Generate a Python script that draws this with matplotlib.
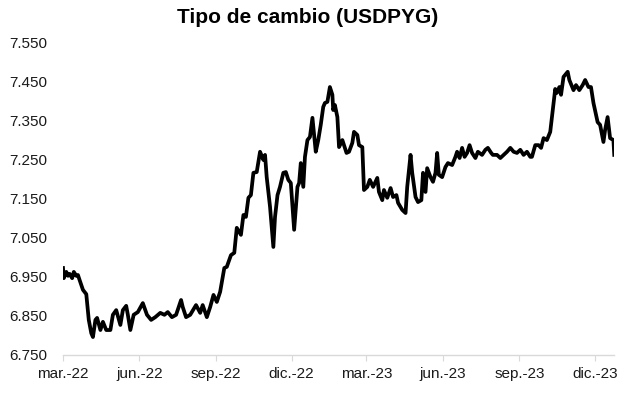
import pandas as pd
import matplotlib
matplotlib.use('Agg')
import matplotlib.pyplot as plt
import matplotlib.dates as mdates
from matplotlib.ticker import FuncFormatter

# Exchange rate USD/PYG (guaranies per dollar)
dates = [
    '2022-03-01', '2022-03-02', '2022-03-05', '2022-03-07', '2022-03-09', '2022-03-12',
    '2022-03-14', '2022-03-17', '2022-03-19', '2022-03-21', '2022-03-25', '2022-03-29',
    '2022-04-01', '2022-04-04', '2022-04-06', '2022-04-09', '2022-04-11', '2022-04-15',
    '2022-04-18', '2022-04-22', '2022-04-27', '2022-04-30', '2022-05-04', '2022-05-09',
    '2022-05-12', '2022-05-16', '2022-05-18', '2022-05-21', '2022-05-25', '2022-05-30',
    '2022-06-05', '2022-06-10', '2022-06-15', '2022-06-20', '2022-06-26', '2022-07-01',
    '2022-07-05', '2022-07-10', '2022-07-15', '2022-07-21', '2022-07-23', '2022-07-27',
    '2022-08-01', '2022-08-08', '2022-08-13', '2022-08-16', '2022-08-21', '2022-08-25',
    '2022-08-29', '2022-09-02', '2022-09-06', '2022-09-11', '2022-09-14', '2022-09-19',
    '2022-09-23', '2022-09-26', '2022-10-01', '2022-10-04', '2022-10-07', '2022-10-10',
    '2022-10-13', '2022-10-16', '2022-10-20', '2022-10-24', '2022-10-28', '2022-10-30',
    '2022-11-01', '2022-11-05', '2022-11-09', '2022-11-11', '2022-11-14', '2022-11-17',
    '2022-11-21', '2022-11-24', '2022-11-27', '2022-11-30', '2022-12-04', '2022-12-08',
    '2022-12-10', '2022-12-12', '2022-12-15', '2022-12-17', '2022-12-20', '2022-12-23',
    '2022-12-26', '2022-12-28', '2022-12-30', '2023-01-02', '2023-01-05', '2023-01-08',
    '2023-01-10', '2023-01-13', '2023-01-16', '2023-01-19', '2023-01-20', '2023-01-22',
    '2023-01-25', '2023-01-27', '2023-01-31', '2023-02-02', '2023-02-05', '2023-02-08',
    '2023-02-12', '2023-02-14', '2023-02-18', '2023-02-20', '2023-02-24', '2023-02-26',
    '2023-03-02', '2023-03-05', '2023-03-09', '2023-03-14', '2023-03-16', '2023-03-20',
    '2023-03-22', '2023-03-26', '2023-03-30', '2023-04-02', '2023-04-06', '2023-04-08',
    '2023-04-13', '2023-04-17', '2023-04-19', '2023-04-23', '2023-04-25', '2023-04-29',
    '2023-05-02', '2023-05-06', '2023-05-08', '2023-05-11', '2023-05-13', '2023-05-17',
    '2023-05-20', '2023-05-23', '2023-05-25', '2023-05-27', '2023-05-31', '2023-06-04',
    '2023-06-07', '2023-06-12', '2023-06-16', '2023-06-18', '2023-06-21', '2023-06-24',
    '2023-06-27', '2023-06-30', '2023-07-03', '2023-07-06', '2023-07-10', '2023-07-13',
    '2023-07-18', '2023-07-22', '2023-07-25', '2023-07-29', '2023-07-31', '2023-08-05',
    '2023-08-09', '2023-08-13', '2023-08-17', '2023-08-21', '2023-08-25', '2023-08-29',
    '2023-09-02', '2023-09-06', '2023-09-10', '2023-09-14', '2023-09-16', '2023-09-20',
    '2023-09-24', '2023-09-27', '2023-09-30', '2023-10-04', '2023-10-08', '2023-10-12',
    '2023-10-14', '2023-10-16', '2023-10-19', '2023-10-21', '2023-10-24', '2023-10-29',
    '2023-10-31', '2023-11-05', '2023-11-08', '2023-11-12', '2023-11-16', '2023-11-19',
    '2023-11-23', '2023-11-26', '2023-11-29', '2023-12-04', '2023-12-07', '2023-12-11',
    '2023-12-13', '2023-12-16', '2023-12-19', '2023-12-23', '2023-12-24',
]
usdpyg = [
    6973, 6947, 6963, 6953, 6958, 6947,
    6963, 6953, 6955, 6942, 6917, 6906,
    6840, 6806, 6796, 6840, 6845, 6814,
    6835, 6814, 6814, 6853, 6865, 6827,
    6865, 6876, 6853, 6814, 6853, 6860,
    6883, 6853, 6840, 6847, 6858, 6853,
    6860, 6847, 6853, 6891, 6873, 6847,
    6853, 6878, 6858, 6878, 6847, 6873,
    6904, 6886, 6912, 6973, 6976, 7006,
    7012, 7076, 7058, 7109, 7104, 7153,
    7160, 7217, 7219, 7271, 7250, 7263,
    7206, 7130, 7027, 7104, 7160, 7181,
    7217, 7219, 7199, 7191, 7071, 7181,
    7191, 7242, 7181, 7258, 7301, 7309,
    7358, 7314, 7271, 7301, 7340, 7386,
    7396, 7399, 7437, 7417, 7378, 7391,
    7360, 7283, 7301, 7288, 7268, 7271,
    7294, 7322, 7314, 7288, 7283, 7173,
    7181, 7199, 7181, 7204, 7168, 7147,
    7173, 7153, 7178, 7155, 7160, 7140,
    7122, 7114, 7181, 7263, 7217, 7155,
    7142, 7147, 7217, 7168, 7229, 7206,
    7194, 7217, 7268, 7212, 7206, 7232,
    7242, 7237, 7258, 7271, 7255, 7281,
    7258, 7268, 7288, 7268, 7255, 7271,
    7263, 7276, 7281, 7268, 7263, 7263,
    7255, 7263, 7271, 7281, 7271, 7268,
    7276, 7263, 7271, 7258, 7258, 7288,
    7288, 7281, 7306, 7301, 7322, 7396,
    7432, 7422, 7437, 7417, 7463, 7476,
    7455, 7429, 7442, 7429, 7442, 7455,
    7437, 7437, 7396, 7347, 7340, 7296,
    7327, 7360, 7306, 7301, 7263,
]

y_ticks = [6750, 6850, 6950, 7050, 7150, 7250, 7350, 7450, 7550]
month_es = {3: 'mar', 6: 'jun', 9: 'sep', 12: 'dic'}

x = pd.to_datetime(dates)

plt.rcParams['font.family'] = ['Liberation Sans', 'DejaVu Sans']

fig = plt.figure(figsize=(6.25, 3.94), dpi=100)
ax = fig.add_axes([0.1008, 0.099, 0.882, 0.792])

ax.plot(x, usdpyg, color='black', linewidth=2.7, solid_joinstyle='round')

ax.set_ylim(y_ticks[0], y_ticks[-1])
ax.set_yticks(y_ticks)
ax.yaxis.set_major_formatter(FuncFormatter(lambda v, p: f'{v:,.0f}'.replace(',', '.')))

ax.set_xlim(x[0], x[-1])
ax.xaxis.set_major_locator(mdates.MonthLocator(bymonth=[3, 6, 9, 12]))
ax.xaxis.set_major_formatter(FuncFormatter(
    lambda v, p: f"{month_es[mdates.num2date(v).month]}.-{mdates.num2date(v).strftime('%y')}"))

# excel-like look: only a light bottom axis
for side in ['left', 'right', 'top']:
    ax.spines[side].set_visible(False)
ax.spines['bottom'].set_color('#d9d9d9')
ax.spines['bottom'].set_linewidth(1)
ax.tick_params(axis='y', length=0, pad=11, labelsize=11, labelcolor='#1a1a1a')
ax.tick_params(axis='x', length=4, color='#d9d9d9', pad=5, labelsize=11, labelcolor='#1a1a1a')

fig.text(0.492, 0.955, 'Tipo de cambio (USDPYG)', ha='center', va='center',
         fontsize=15, fontweight='bold')

fig.savefig('out.png', dpi=100)
